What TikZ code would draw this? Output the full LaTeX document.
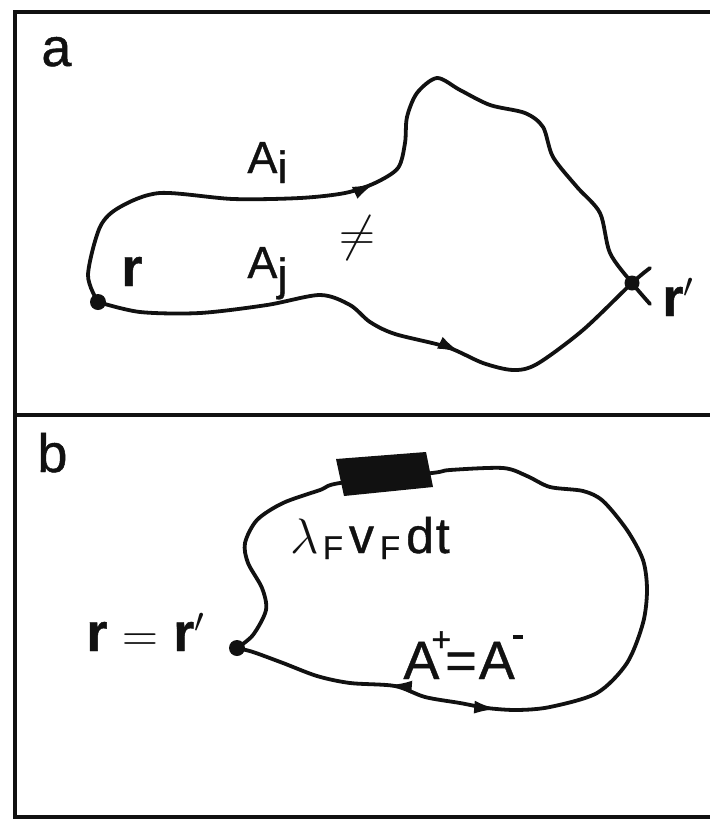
\documentclass[tikz,border=0pt]{standalone}
\usepackage{fontspec}
\setmainfont{Liberation Sans}[FakeBold=0.8]
\usepackage{xcolor}
\definecolor{inkblack}{HTML}{111111}
\usepackage{tikz}
\usetikzlibrary{arrows.meta,decorations.markings}

\begin{document}
\begin{tikzpicture}[x=0.5pt, y=-0.5pt, inkblack,
  panelframe/.style={line width=2.1pt},
  pathline/.style={line width=1.9pt, line join=round, line cap=round},
  panellabel/.style={font=\fontsize{27}{30}\selectfont, anchor=base west, inner sep=0pt},
  amplabel/.style={font=\fontsize{22.5}{25}\selectfont, anchor=base west, inner sep=0pt},
  veclabel/.style={font=\fontsize{27}{30}\selectfont, anchor=base west, inner sep=0pt},
  tipA/.style={decoration={markings, mark=at position #1 with {\arrow{Latex[length=12pt,width=6.5pt]}}}, postaction={decorate}}]
  \useasboundingbox (0,0) rectangle (710,820);
  % Frame and divider
  \draw[panelframe] (15,12) rectangle (730,817);
  \draw[panelframe] (15,415) -- (730,415);
  % Panel labels
  \node[panellabel] (labA) at (41,66) {a};
  \node[panellabel] (labB) at (37,472) {b};

  % Panel a: two paths from r to r'
  \coordinate (r) at (98,302);
  \coordinate (rp) at (632,283);
  \draw[pathline, tipA=0.445] plot[smooth] coordinates {(r) (88,275) (100,227) (120,207) (160,193)
    (233,199) (300,198) (345,193) (375,183) (398,168) (405,143) (407,117) (417,93) (437,78)
    (460,90) (490,105) (525,113) (543,127) (553,157) (577,187) (600,213) (610,253) (rp) (650,304)};
  \draw[pathline, tipA=0.625] plot[smooth] coordinates {(r) (140,312) (200,313) (267,305)
    (320,295) (350,305) (370,322) (395,334) (447,347) (483,363) (513,370) (537,364) (583,330)
    (rp) (650,268)};
  \fill (r) circle (8);
  \fill (rp) circle (7.5);
  \node[amplabel] (ampI) at (247,173) {A\lower5pt\hbox{i}};
  \node[amplabel] (ampJ) at (247,278) {A\lower6pt\hbox{j}};
  \node[font=\fontsize{29}{30}\selectfont, inner sep=0pt] (neq) at (357,238) {$\neq$};
  \node[veclabel] (rA) at (121,286) {\textbf{r}};
  \node[veclabel] (rpA) at (662,316) {\textbf{r}$'$};

  % Panel b: closed loop r = r'
  \coordinate (rb) at (237,648);
  \draw[pathline,
    decoration={markings,
      mark=at position 0.755 with {\arrowreversed{Latex[length=12pt,width=6.5pt]}},
      mark=at position 0.858 with {\arrow{Latex[length=12pt,width=6.5pt]}}},
    postaction={decorate}]
    plot[smooth] coordinates {(rb) (253,635) (266,610) (262,588) (248,563) (245,543) (257,520)
    (283,503) (320,490) (340,483) (432,473) (450,470) (503,468) (527,476) (550,487) (583,491)
    (603,501) (627,530) (643,560) (647,590) (643,623) (627,663) (597,693) (550,707) (517,710)
    (487,708) (460,703) (425,697) (395,686) (350,683) (317,676) (283,663) (253,652) (rb)};
  \fill (336,459) -- (426,452) -- (433,487) -- (344,496) -- cycle;
  \fill (rb) circle (8);
  \node[veclabel] (rrb) at (86,651) {\textbf{r} $=$ \textbf{r}$'$};
  \node[font=\fontsize{25}{28}\selectfont, anchor=base west, inner sep=0pt] (flux) at (290,553)
    {{\fontsize{33}{33}\selectfont$\lambda$}\kern2pt\lower3pt\hbox{\fontsize{16.5}{16}\selectfont F}\kern3pt
     v\kern3pt\lower3pt\hbox{\fontsize{16.5}{16}\selectfont F}\kern3pt d\kern1pt t};
  \node[font=\fontsize{27}{30}\selectfont, anchor=base west, inner sep=0pt] (apm) at (403,679)
    {A\kern-4pt\raisebox{14pt}{\fontsize{17}{17}\selectfont +}\kern-3pt=\kern1pt A\kern-1pt\raisebox{20pt}{\rule{5pt}{2pt}}};
\end{tikzpicture}
\end{document}
